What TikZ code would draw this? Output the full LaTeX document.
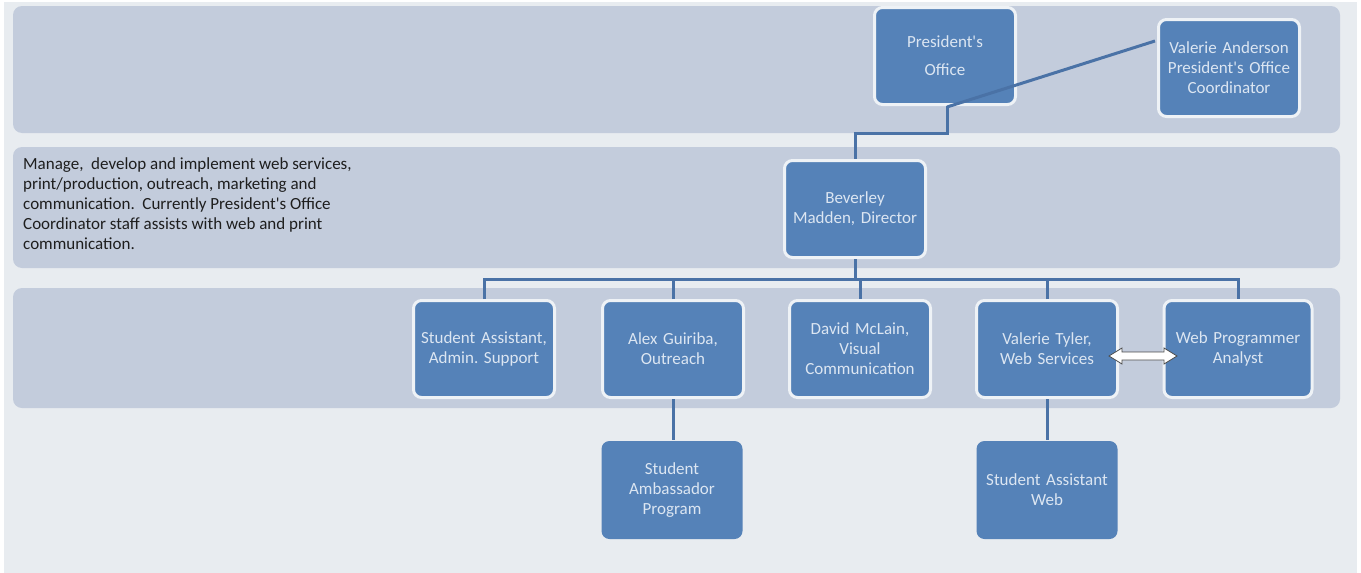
\documentclass[tikz,border=0pt]{standalone}
\usepackage{fontspec}
\setmainfont{Carlito}
\usetikzlibrary{arrows.meta}
\definecolor{outerbg}{HTML}{E8ECF0}
\definecolor{bandfill}{HTML}{C3CCDC}
\definecolor{boxfill}{HTML}{5582B8}
\definecolor{boxedge}{HTML}{EEF2F6}
\definecolor{boxtext}{HTML}{DCE6F2}
\definecolor{linecol}{HTML}{4A72A6}
\definecolor{desctext}{HTML}{1E1E1E}
\newcommand{\sq}{\textquotesingle}
\tikzset{
  band/.style={fill=bandfill, draw=none, rounded corners=9pt},
  orgbox/.style={fill=boxfill, draw=boxedge, line width=3pt, rounded corners=8pt,
    minimum width=141pt, minimum height=97pt, inner sep=0pt, align=center,
    text=boxtext, font=\fontsize{17}{20}\selectfont, text width=138pt},
  lowbox/.style={orgbox, draw=none, minimum width=141pt, minimum height=98pt},
  conn/.style={draw=linecol, line width=3pt},
}
\begin{document}
\begin{tikzpicture}[x=1pt,y=-1pt]
\useasboundingbox (0,0) rectangle (1361,573);
\fill[white] (0,0) rectangle (1361,573);
\fill[outerbg] (4,2) rectangle (1357,573);
% bands
\path[band] (13,6) rectangle (1340,133);
\path[band] (13,147) rectangle (1340,268);
\path[band] (13,288) rectangle (1340,408);
% description
\node[anchor=north west, inner sep=0pt, align=left, text=desctext,
  font=\fontsize{17}{20}\selectfont] (desc) at (23,157)
  {Manage,\ \ develop and implement web services,\\
   print/production, outreach, marketing and\\
   communication.\ \ Currently President\sq s Office\\
   Coordinator staff assists with web and print\\
   communication.};
% boxes
\node[orgbox] (pres) at (945,56) {President\sq s\\[8pt]Office};
\node[orgbox] (anderson) at (1229,68) {Valerie Anderson\\President\sq s Office\\Coordinator};
\node[orgbox] (dir) at (855,209) {Beverley\\Madden, Director};
\node[orgbox] (sa) at (484,349) {Student Assistant,\\Admin.\ Support};
\node[orgbox] (alex) at (673,349) {Alex Guiriba,\\Outreach};
\node[orgbox] (david) at (860,349) {David McLain,\\Visual\\Communication};
\node[orgbox] (tyler) at (1047,349) {Valerie Tyler,\\Web Services};
\node[orgbox, minimum width=148pt] (wpa) at (1238,349) {Web Programmer\\Analyst};
\node[lowbox] (amb) at (672,490) {Student\\Ambassador\\Program};
\node[lowbox] (saw) at (1047,490) {Student Assistant\\Web};
% connectors
\coordinate (elbow) at (947,107);
\coordinate (mid1) at (947,133);
\coordinate (mid2) at (855,133);
\draw[conn] (pres.south -| elbow) -- (mid1) -- (mid2) -- (dir.north);
\coordinate (ancl) at (1155,41);
\draw[conn] (ancl) -- (elbow);
\coordinate (bus) at (855,279);
\draw[conn] (dir.south) -- (bus);
\draw[conn] (sa.north) |- (bus) -| (wpa.north);
\draw[conn] (alex.north) -- (alex.north |- bus);
\draw[conn] (david.north) -- (david.north |- bus);
\draw[conn] (tyler.north) -- (tyler.north |- bus);
\draw[conn] (alex.south) -- (amb.north -| alex.south);
\draw[conn] (tyler.south) -- (saw.north);
% double arrow
\fill[white, draw=black!70, line width=0.8pt]
  (1109,356) -- (1122,348) -- (1122,352) -- (1164,352) -- (1164,348) -- (1177,356)
  -- (1164,364) -- (1164,360) -- (1122,360) -- (1122,364) -- cycle;
\end{tikzpicture}
\end{document}
